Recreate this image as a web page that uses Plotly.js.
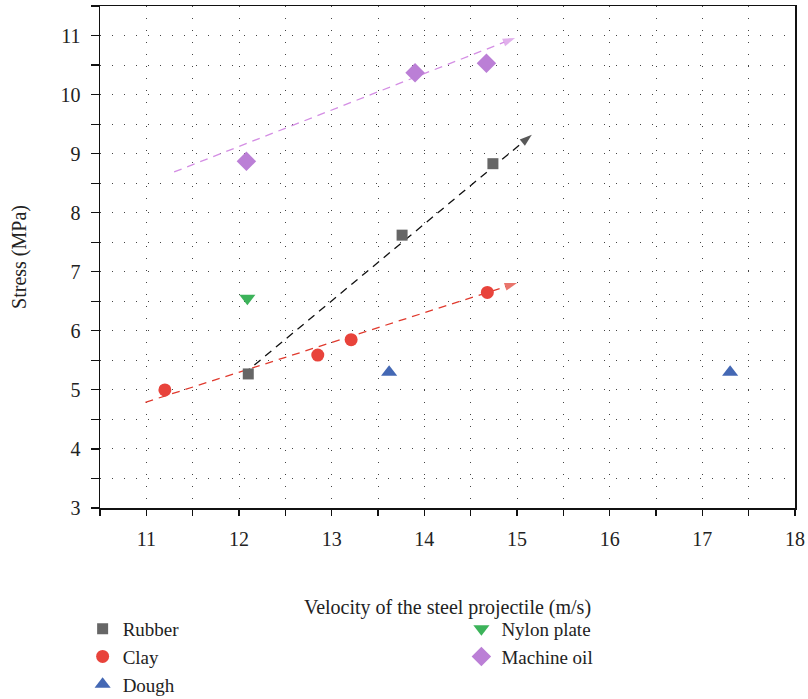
<!DOCTYPE html>
<html>
<head>
<meta charset="utf-8">
<script src="https://cdn.plot.ly/plotly-3.0.1.min.js"></script>
<style>html,body{margin:0;padding:0;background:#fff;}#chart{width:808px;height:699px;}</style>
</head>
<body>
<div id="chart"></div>
<script>
// Data
const rubberX = [12.1, 13.76, 14.74];
const rubberY = [5.27, 7.62, 8.83];
const clayX = [11.2, 12.85, 13.21, 14.68];
const clayY = [5.0, 5.59, 5.85, 6.65];
const doughX = [13.62, 17.3];
const doughY = [5.3, 5.3];
const nylonX = [12.09];
const nylonY = [6.55];
const oilX = [12.08, 13.9, 14.67];
const oilY = [8.87, 10.37, 10.53];

// Trend arrows (start, end) in data units
const oilTrendX = [11.3, 14.98];
const oilTrendY = [8.69, 10.96];
const rubberTrendX = [12.05, 15.16];
const rubberTrendY = [5.27, 9.32];
const clayTrendX = [10.99, 15.0];
const clayTrendY = [4.79, 6.81];

const xTicks = [11, 12, 13, 14, 15, 16, 17, 18];
const yTicks = [3, 4, 5, 6, 7, 8, 9, 10, 11];

const FONT = 'Liberation Serif, Times New Roman, serif';

function arrowTrace(x, y, color) {
  return {
    x: x, y: y, mode: 'lines+markers', type: 'scatter', showlegend: false,
    hoverinfo: 'skip',
    line: {color: color, width: 1.3, dash: '8px,6px'},
    marker: {symbol: ['circle', 'arrow'], size: [0, 13], color: color, angleref: 'previous', line: {width: 0}}
  };
}

const traces = [
  arrowTrace(oilTrendX, oilTrendY, '#d48ee4'),
  arrowTrace(rubberTrendX, rubberTrendY, '#111111'),
  arrowTrace(clayTrendX, clayTrendY, '#e03a2e'),
  {x: rubberX, y: rubberY, name: 'Rubber', mode: 'markers', type: 'scatter', legend: 'legend',
   marker: {symbol: 'square', size: 11, color: '#666666'}},
  {x: clayX, y: clayY, name: 'Clay', mode: 'markers', type: 'scatter', legend: 'legend',
   marker: {symbol: 'circle', size: 13, color: '#e8433b'}},
  {x: doughX, y: doughY, name: 'Dough', mode: 'markers', type: 'scatter', legend: 'legend',
   marker: {symbol: 'triangle-up', size: 14, color: '#4468b4'}},
  {x: nylonX, y: nylonY, name: 'Nylon plate', mode: 'markers', type: 'scatter', legend: 'legend2',
   marker: {symbol: 'triangle-down', size: 14, color: '#3cb35a'}},
  {x: oilX, y: oilY, name: 'Machine oil', mode: 'markers', type: 'scatter', legend: 'legend2',
   marker: {symbol: 'diamond', size: 15, color: '#bb7fd6'}}
];

const gridStyle = {gridcolor: '#444444', griddash: '1px,11px', gridwidth: 1};
const TXT = '#222222';

const layout = {
  width: 808, height: 699,
  margin: {l: 100, r: 13, t: 6, b: 191, autoexpand: false},
  paper_bgcolor: '#ffffff', plot_bgcolor: '#ffffff',
  font: {family: FONT, size: 20, color: TXT},
  xaxis: Object.assign({
    range: [10.5, 18], tickvals: xTicks, ticktext: xTicks.map(String),
    automargin: false,
    showline: true, mirror: true, linecolor: '#111111', linewidth: 1.5,
    ticks: 'outside', ticklen: 6, tickcolor: '#111111', tickwidth: 1.2,
    ticklabelstandoff: 6,
    showgrid: true, zeroline: false,
    tickfont: {family: FONT, size: 20, color: TXT},
    title: {text: 'Velocity of the steel projectile (m/s)', font: {family: FONT, size: 20, color: TXT}, standoff: 51},
    minor: Object.assign({dtick: 0.5, tick0: 10.5, showgrid: true, ticks: 'outside', ticklen: 6, tickcolor: '#111111', tickwidth: 1.2}, gridStyle)
  }, gridStyle),
  yaxis: Object.assign({
    range: [3, 11.5], tickvals: yTicks, ticktext: yTicks.map(String),
    automargin: false,
    showline: true, mirror: true, linecolor: '#111111', linewidth: 1.5,
    ticks: 'outside', ticklen: 8, tickcolor: '#111111', tickwidth: 1.2,
    ticklabelstandoff: 6,
    showgrid: true, zeroline: false,
    tickfont: {family: FONT, size: 20, color: TXT},
    title: {text: 'Stress (MPa)', font: {family: FONT, size: 20, color: TXT}, standoff: 28},
    minor: Object.assign({dtick: 0.5, tick0: 3, showgrid: true, ticks: 'outside', ticklen: 8, tickcolor: '#111111', tickwidth: 1.2}, gridStyle)
  }, gridStyle),
  legend: {x: -0.025, xanchor: 'left', y: -0.203, yanchor: 'top', orientation: 'v',
           font: {family: FONT, size: 19, color: TXT}, bgcolor: 'rgba(0,0,0,0)', tracegroupgap: 0},
  legend2: {x: 0.52, xanchor: 'left', y: -0.203, yanchor: 'top', orientation: 'v',
           font: {family: FONT, size: 19, color: TXT}, bgcolor: 'rgba(0,0,0,0)', tracegroupgap: 0},
  showlegend: true
};

Plotly.newPlot('chart', traces, layout, {displayModeBar: false, staticPlot: true});
</script>
</body>
</html>
